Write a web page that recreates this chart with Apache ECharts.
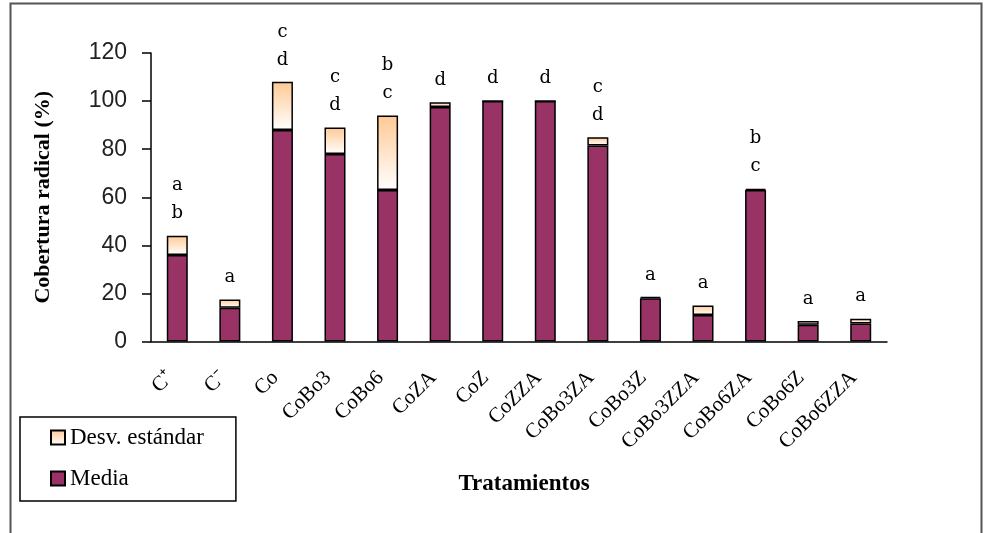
<!DOCTYPE html>
<html>
<head>
<meta charset="utf-8">
<script src="https://cdn.jsdelivr.net/npm/echarts@6/dist/echarts.min.js"></script>
<style>
  html, body { margin: 0; padding: 0; background: #ffffff; }
  #chart { width: 987px; height: 533px; }
</style>
</head>
<body>
<div id="chart"></div>
<script>
// Treatments on the x axis
const categories = ['C\u207A', 'C\u207B', 'Co', 'CoBo3', 'CoBo6', 'CoZA', 'CoZ', 'CoZZA',
  'CoBo3ZA', 'CoBo3Z', 'CoBo3ZZA', 'CoBo6ZA', 'CoBo6Z', 'CoBo6ZZA'];
// Mean root coverage (%)
const media = [36, 14, 88, 78, 63, 97.5, 100, 100, 81.5, 18, 11, 63, 7, 7.5];
// Standard deviation, stacked on top of the mean
const desv = [8, 3.5, 20, 11, 31, 2, 0, 0, 3.5, 0.5, 4, 0.5, 1.5, 2];
// Significance letters shown above each bar
const letras = ['a\nb', 'a', 'c\nd', 'c\nd', 'b\nc', 'd', 'd', 'd', 'c\nd', 'a', 'a', 'b\nc', 'a', 'a'];
// Y axis ticks
const yTicks = { min: 0, max: 120, interval: 20 };

const chart = echarts.init(document.getElementById('chart'), null, { renderer: 'canvas' });

const serif = '"Liberation Serif", "Times New Roman", serif';

chart.setOption({
  animation: false,
  backgroundColor: '#ffffff',
  graphic: [{
    type: 'rect',
    shape: { x: 10.5, y: 3.5, width: 971, height: 560 },
    style: { fill: 'none', stroke: '#555555', lineWidth: 2 },
    silent: true
  }],
  grid: { left: 151, right: 100, top: 53, bottom: 191.5 },
  legend: {
    orient: 'vertical',
    left: 20,
    top: 417,
    data: ['Desv. estándar', 'Media'],
    itemWidth: 14,
    itemHeight: 14,
    itemGap: 18,
    padding: [9, 32, 11, 30],
    borderColor: '#000000',
    borderWidth: 1.5,
    icon: 'rect',
    textStyle: { fontFamily: serif, fontSize: 23, color: '#000', lineHeight: 22 }
  },
  xAxis: {
    type: 'category',
    data: categories,
    name: 'Tratamientos',
    nameLocation: 'middle',
    nameGap: 131,
    nameTextStyle: { fontFamily: serif, fontSize: 23, fontWeight: 'bold', color: '#000', padding: [0, 0, 0, 10] },
    axisLine: { lineStyle: { color: '#000', width: 1.5 } },
    axisTick: { length: 7, lineStyle: { color: '#000', width: 1.5 } },
    axisLabel: {
      rotate: 45,
      interval: 0,
      margin: 26,
      padding: [0, 10, 0, 0],
      fontFamily: serif,
      fontSize: 21,
      color: '#000'
    }
  },
  yAxis: {
    type: 'value',
    min: yTicks.min,
    max: yTicks.max,
    interval: yTicks.interval,
    name: 'Cobertura radical (%)',
    nameLocation: 'middle',
    nameGap: 97,
    nameTextStyle: { fontFamily: serif, fontSize: 22, fontWeight: 'bold', color: '#000' },
    axisLine: { show: true, lineStyle: { color: '#000', width: 1.5 } },
    axisTick: { show: true, length: 9, lineStyle: { color: '#000', width: 1.5 } },
    splitLine: { show: false },
    axisLabel: {
      margin: 24,
      fontFamily: '"Liberation Sans", Arial, sans-serif',
      fontSize: 23,
      color: '#222'
    }
  },
  series: [
    {
      name: 'Media',
      type: 'bar',
      stack: 'total',
      barWidth: 21,
      data: media,
      itemStyle: { color: '#993366', borderColor: '#000', borderWidth: 1.5 }
    },
    {
      name: 'Desv. estándar',
      type: 'bar',
      stack: 'total',
      barWidth: 21,
      data: desv,
      itemStyle: {
        color: new echarts.graphic.LinearGradient(0, 0, 0, 1, [
          { offset: 0, color: '#ffc994' },
          { offset: 1, color: '#ffffff' }
        ]),
        borderColor: '#000',
        borderWidth: 1.5
      },
      label: {
        show: true,
        position: 'top',
        distance: 8,
        formatter: p => letras[p.dataIndex],
        fontFamily: '"DejaVu Serif", serif',
        fontSize: 18,
        lineHeight: 28,
        color: '#000'
      }
    }
  ]
});
</script>
</body>
</html>
